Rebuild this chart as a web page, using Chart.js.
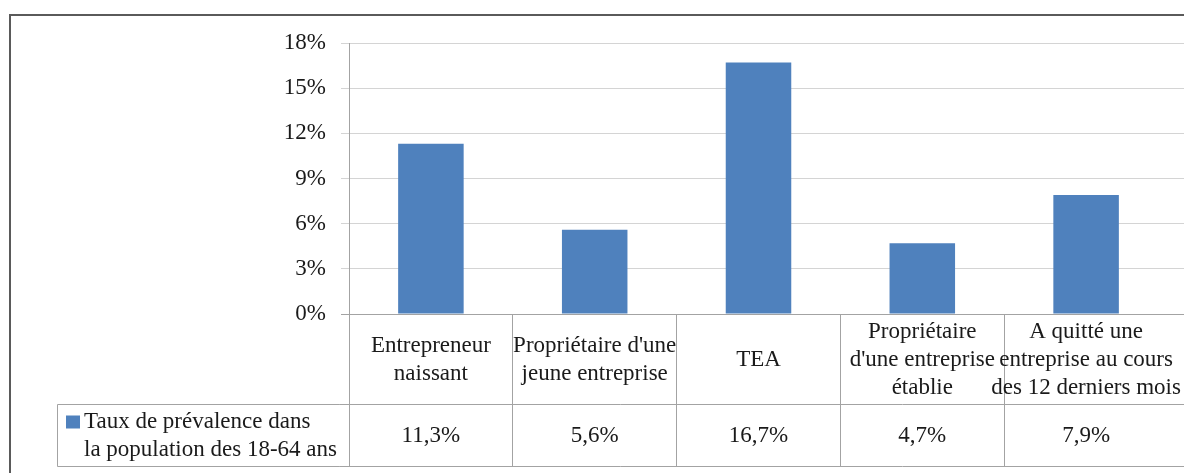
<!DOCTYPE html>
<html>
<head>
<meta charset="utf-8">
<script src="https://cdn.jsdelivr.net/npm/chart.js@4/dist/chart.umd.min.js"></script>
<style>
  html, body { margin: 0; padding: 0; background: #fff; overflow: hidden; }
  canvas { display: block; }
</style>
</head>
<body>
<canvas id="chart" width="1184" height="473"></canvas>
<script>
// Categories (one array of lines per column of the data table)
const categories = [
  ["Entrepreneur", "naissant"],
  ["Propriétaire d'une", "jeune entreprise"],
  ["TEA"],
  ["Propriétaire", "d'une entreprise", "établie"],
  ["A quitté une", "entreprise au cours", "des 12 derniers mois"]
];
// Series name, split over two lines in the legend cell
const seriesName = ["Taux de prévalence dans", "la population des 18-64 ans"];
// Prevalence rates, in percent
const prevalence = [11.3, 5.6, 16.7, 4.7, 7.9];
// Y axis ticks, in percent
const yTicks = [0, 3, 6, 9, 12, 15, 18];

const BAR_COLOR = '#4f81bd';
const TEXT_COLOR = '#1a1a1a';
const GRID_COLOR = '#d4d4d4';
const AXIS_COLOR = '#a3a3a3';
const FONT = '"Liberation Serif", "Times New Roman", serif';
const FONT_SIZE = 23;

const formatValue = v => v.toFixed(1).replace('.', ',') + '%';
// Same pixel alignment Chart.js uses for 1px grid lines
const alignPx = p => Math.round(p - 0.5) + 0.5;

// White background and outer frame of the chart object
const framePlugin = {
  id: 'frame',
  beforeDraw(chart) {
    const ctx = chart.ctx;
    ctx.save();
    ctx.fillStyle = '#ffffff';
    ctx.fillRect(0, 0, chart.width, chart.height);
    ctx.strokeStyle = '#5a5a5a';
    ctx.lineWidth = 2;
    ctx.beginPath();
    ctx.moveTo(10, chart.height);
    ctx.lineTo(10, 15);
    ctx.lineTo(chart.width, 15);
    ctx.stroke();
    ctx.restore();
  }
};

// Horizontal gridlines continue past the last category to the frame edge
const gridExtendPlugin = {
  id: 'gridExtend',
  beforeDatasetsDraw(chart) {
    const ctx = chart.ctx;
    const y = chart.scales.y;
    const area = chart.chartArea;
    ctx.save();
    ctx.lineWidth = 1;
    ctx.strokeStyle = GRID_COLOR;
    y.ticks.forEach(t => {
      if (t.value === 0) return;
      const py = alignPx(y.getPixelForValue(t.value));
      ctx.beginPath();
      ctx.moveTo(area.right, py);
      ctx.lineTo(chart.width, py);
      ctx.stroke();
    });
    ctx.restore();
  }
};

// Data table under the plot: category row, then the value row with its legend key
const dataTablePlugin = {
  id: 'dataTable',
  afterDraw(chart) {
    const ctx = chart.ctx;
    const x = chart.scales.x;
    const y = chart.scales.y;
    const n = categories.length;
    const step = (x.right - x.left) / n;
    const top = alignPx(y.getPixelForValue(0));
    const mid = top + 90;
    const bot = mid + 62;
    const legendLeft = 57.5;
    const lineH = 28;

    ctx.save();
    ctx.strokeStyle = AXIS_COLOR;
    ctx.lineWidth = 1;
    ctx.beginPath();
    // horizontal rules
    ctx.moveTo(x.left - 8, top); ctx.lineTo(chart.width, top);
    ctx.moveTo(legendLeft, mid); ctx.lineTo(chart.width, mid);
    ctx.moveTo(legendLeft, bot); ctx.lineTo(chart.width, bot);
    // legend cell left edge
    ctx.moveTo(legendLeft, mid); ctx.lineTo(legendLeft, bot);
    // column separators
    for (let i = 0; i < n; i++) {
      const px = alignPx(x.left + i * step);
      ctx.moveTo(px, top); ctx.lineTo(px, bot);
    }
    ctx.stroke();

    ctx.fillStyle = TEXT_COLOR;
    ctx.font = FONT_SIZE + 'px ' + FONT;
    ctx.textAlign = 'center';
    ctx.textBaseline = 'middle';
    const headMid = (top + mid) / 2;
    const valMid = (mid + bot) / 2;
    categories.forEach((lines, i) => {
      const cx = x.getPixelForValue(i);
      const y0 = headMid - (lines.length - 1) * lineH / 2;
      lines.forEach((s, k) => ctx.fillText(s, cx, y0 + k * lineH));
      ctx.fillText(formatValue(prevalence[i]), cx, valMid);
    });

    // legend key and series name
    ctx.fillStyle = BAR_COLOR;
    ctx.fillRect(66, valMid - 20, 14, 13);
    ctx.fillStyle = TEXT_COLOR;
    ctx.textAlign = 'left';
    const ly0 = valMid - (seriesName.length - 1) * lineH / 2;
    seriesName.forEach((s, k) => ctx.fillText(s, 84, ly0 + k * lineH));
    ctx.restore();
  }
};

Chart.defaults.font.family = FONT;
Chart.defaults.font.size = FONT_SIZE;
Chart.defaults.color = TEXT_COLOR;

new Chart(document.getElementById('chart'), {
  type: 'bar',
  data: {
    labels: categories,
    datasets: [{
      label: seriesName.join(' '),
      data: prevalence,
      backgroundColor: BAR_COLOR,
      borderWidth: 0,
      categoryPercentage: 1,
      barPercentage: 0.4
    }]
  },
  options: {
    responsive: false,
    animation: false,
    devicePixelRatio: 1,
    layout: { padding: { left: 0, top: 43, right: 16, bottom: 159 } },
    plugins: {
      legend: { display: false },
      tooltip: { enabled: false }
    },
    scales: {
      x: {
        display: false,
        offset: true
      },
      y: {
        min: 0,
        max: 18,
        afterFit(scale) { scale.width = 349; },
        afterBuildTicks(scale) { scale.ticks = yTicks.map(v => ({ value: v })); },
        ticks: {
          padding: 15,
          color: TEXT_COLOR,
          font: { size: FONT_SIZE, family: FONT },
          callback: v => v + '%'
        },
        grid: {
          color: ctx => (ctx.tick && ctx.tick.value === 0) ? AXIS_COLOR : GRID_COLOR,
          tickLength: 8,
          lineWidth: 1
        },
        border: { color: AXIS_COLOR, width: 1 }
      }
    }
  },
  plugins: [framePlugin, gridExtendPlugin, dataTablePlugin]
});
</script>
</body>
</html>
